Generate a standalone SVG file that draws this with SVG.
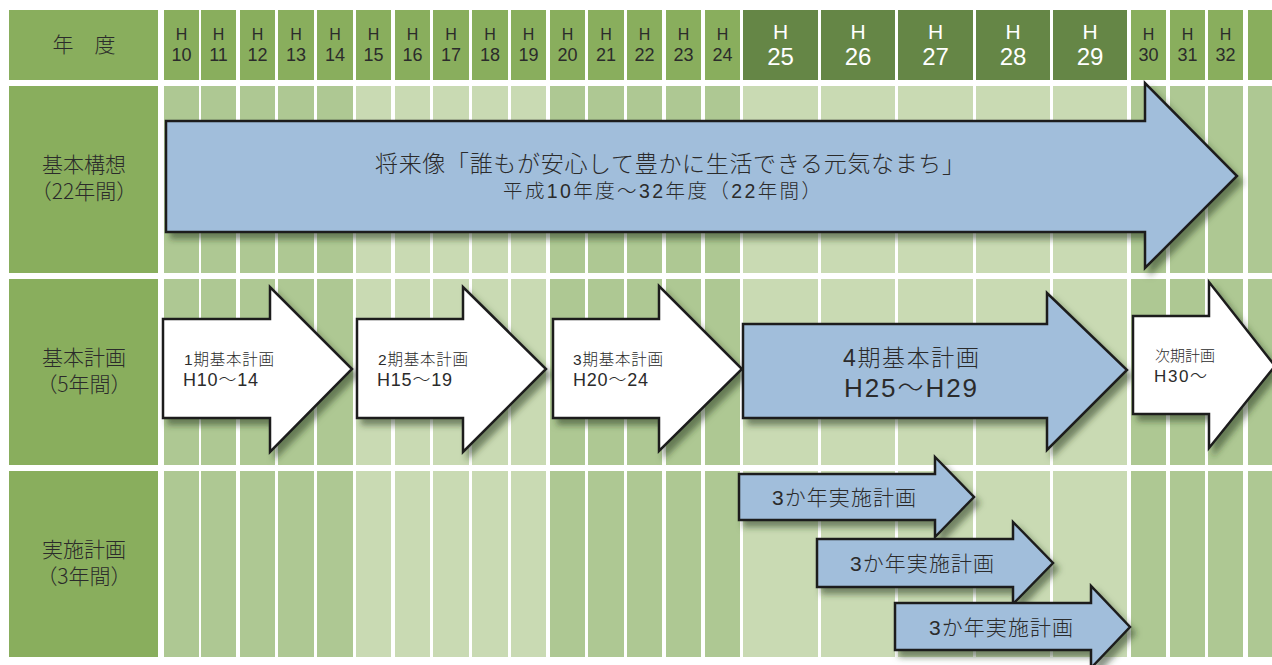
<svg xmlns="http://www.w3.org/2000/svg" width="1272" height="665" viewBox="0 0 1272 665">
<defs>
<style>
.t{font-family:"Liberation Sans","Noto Sans CJK JP",sans-serif;fill:#2b2b2b;font-weight:300}
.jp{font-family:"Noto Sans CJK JP","Liberation Sans",sans-serif;fill:#2b2b2b;font-weight:300}
.hd{fill:#89ae5d}
.hdk{fill:#658646}
.cm{fill:#aec893}
.cl{fill:#c9dab3}
.lab{fill:#89ae5d}
.arB{fill:#a1bedb;stroke:#1e1e1e;stroke-width:2.5;stroke-linejoin:miter}
.arW{fill:#ffffff;stroke:#1e1e1e;stroke-width:2.5;stroke-linejoin:miter}
.hs{font-size:16px;text-anchor:middle}
.ns{font-size:18px;text-anchor:middle}
.hb{font-size:21px;text-anchor:middle;fill:#ffffff}
.nb{font-size:24px;text-anchor:middle;fill:#ffffff}
</style>
<filter id="sh" x="-10%" y="-20%" width="130%" height="150%">
<feDropShadow dx="5" dy="6" stdDeviation="3" flood-color="#2a3a1a" flood-opacity="0.55"/>
</filter>
</defs>
<rect width="1272" height="665" fill="#ffffff"/>

<g id="columns">
<g id="header-cells">
<rect class="hd" x="164" y="10" width="35" height="70"/>
<rect class="hd" x="201" y="10" width="35" height="70"/>
<rect class="hd" x="240" y="10" width="35" height="70"/>
<rect class="hd" x="278" y="10" width="36" height="70"/>
<rect class="hd" x="317" y="10" width="36" height="70"/>
<rect class="hd" x="356" y="10" width="35" height="70"/>
<rect class="hd" x="395" y="10" width="35" height="70"/>
<rect class="hd" x="433" y="10" width="36" height="70"/>
<rect class="hd" x="472" y="10" width="36" height="70"/>
<rect class="hd" x="511" y="10" width="35" height="70"/>
<rect class="hd" x="550" y="10" width="35" height="70"/>
<rect class="hd" x="588" y="10" width="36" height="70"/>
<rect class="hd" x="627" y="10" width="35" height="70"/>
<rect class="hd" x="666" y="10" width="35" height="70"/>
<rect class="hd" x="705" y="10" width="35" height="70"/>
<rect class="hdk" x="743" y="10" width="75" height="70"/>
<rect class="hdk" x="821" y="10" width="74" height="70"/>
<rect class="hdk" x="898" y="10" width="75" height="70"/>
<rect class="hdk" x="976" y="10" width="74" height="70"/>
<rect class="hdk" x="1053" y="10" width="74" height="70"/>
<rect class="hd" x="1131" y="10" width="35" height="70"/>
<rect class="hd" x="1170" y="10" width="35" height="70"/>
<rect class="hd" x="1208" y="10" width="35" height="70"/>
<rect class="hd" x="1248" y="10" width="24" height="70"/>
</g>
<g id="body-cells">
<rect class="cm" x="164" y="86" width="35" height="571"/>
<rect class="cm" x="201" y="86" width="35" height="571"/>
<rect class="cm" x="240" y="86" width="35" height="571"/>
<rect class="cm" x="278" y="86" width="36" height="571"/>
<rect class="cm" x="317" y="86" width="36" height="571"/>
<rect class="cl" x="356" y="86" width="35" height="571"/>
<rect class="cl" x="395" y="86" width="35" height="571"/>
<rect class="cl" x="433" y="86" width="36" height="571"/>
<rect class="cl" x="472" y="86" width="36" height="571"/>
<rect class="cl" x="511" y="86" width="35" height="571"/>
<rect class="cm" x="550" y="86" width="35" height="571"/>
<rect class="cm" x="588" y="86" width="36" height="571"/>
<rect class="cm" x="627" y="86" width="35" height="571"/>
<rect class="cm" x="666" y="86" width="35" height="571"/>
<rect class="cm" x="705" y="86" width="35" height="571"/>
<rect class="cl" x="743" y="86" width="75" height="571"/>
<rect class="cl" x="821" y="86" width="74" height="571"/>
<rect class="cl" x="898" y="86" width="75" height="571"/>
<rect class="cl" x="976" y="86" width="74" height="571"/>
<rect class="cl" x="1053" y="86" width="74" height="571"/>
<rect class="cm" x="1131" y="86" width="35" height="571"/>
<rect class="cm" x="1170" y="86" width="35" height="571"/>
<rect class="cm" x="1208" y="86" width="35" height="571"/>
<rect class="cm" x="1248" y="86" width="24" height="571"/>
<rect x="160" y="273" width="1112" height="6" fill="#ffffff"/>
<rect x="160" y="465" width="1112" height="6" fill="#ffffff"/>
</g>
</g>

<g id="row-labels">
<g id="label-year">
<rect class="lab" x="9" y="10" width="149" height="70"/>
<text class="jp" x="84" y="52" font-size="21" text-anchor="middle">年　度</text>
</g>
<g id="label-kousou">
<rect class="lab" x="9" y="86" width="149" height="187"/>
<text class="jp" x="84" y="172" font-size="21" text-anchor="middle">基本構想</text>
<text class="jp" x="84" y="199" font-size="21" text-anchor="middle">（22年間）</text>
</g>
<g id="label-keikaku">
<rect class="lab" x="9" y="279" width="149" height="186"/>
<text class="jp" x="84" y="365" font-size="21" text-anchor="middle">基本計画</text>
<text class="jp" x="84" y="392" font-size="21" text-anchor="middle">（5年間）</text>
</g>
<g id="label-jisshi">
<rect class="lab" x="9" y="471" width="149" height="186"/>
<text class="jp" x="84" y="557" font-size="21" text-anchor="middle">実施計画</text>
<text class="jp" x="84" y="584" font-size="21" text-anchor="middle">（3年間）</text>
</g>
</g>

<g id="year-labels">
<text class="t hs" x="181.5" y="40">H</text><text class="t ns" x="181.5" y="61">10</text>
<text class="t hs" x="218.5" y="40">H</text><text class="t ns" x="218.5" y="61">11</text>
<text class="t hs" x="257.5" y="40">H</text><text class="t ns" x="257.5" y="61">12</text>
<text class="t hs" x="296" y="40">H</text><text class="t ns" x="296" y="61">13</text>
<text class="t hs" x="335" y="40">H</text><text class="t ns" x="335" y="61">14</text>
<text class="t hs" x="373.5" y="40">H</text><text class="t ns" x="373.5" y="61">15</text>
<text class="t hs" x="412.5" y="40">H</text><text class="t ns" x="412.5" y="61">16</text>
<text class="t hs" x="451" y="40">H</text><text class="t ns" x="451" y="61">17</text>
<text class="t hs" x="490" y="40">H</text><text class="t ns" x="490" y="61">18</text>
<text class="t hs" x="528.5" y="40">H</text><text class="t ns" x="528.5" y="61">19</text>
<text class="t hs" x="567.5" y="40">H</text><text class="t ns" x="567.5" y="61">20</text>
<text class="t hs" x="606" y="40">H</text><text class="t ns" x="606" y="61">21</text>
<text class="t hs" x="644.5" y="40">H</text><text class="t ns" x="644.5" y="61">22</text>
<text class="t hs" x="683.5" y="40">H</text><text class="t ns" x="683.5" y="61">23</text>
<text class="t hs" x="722.5" y="40">H</text><text class="t ns" x="722.5" y="61">24</text>
<text class="t hb" x="780.5" y="39">H</text><text class="t nb" x="780.5" y="65">25</text>
<text class="t hb" x="858" y="39">H</text><text class="t nb" x="858" y="65">26</text>
<text class="t hb" x="935.5" y="39">H</text><text class="t nb" x="935.5" y="65">27</text>
<text class="t hb" x="1013" y="39">H</text><text class="t nb" x="1013" y="65">28</text>
<text class="t hb" x="1090" y="39">H</text><text class="t nb" x="1090" y="65">29</text>
<text class="t hs" x="1148.5" y="40">H</text><text class="t ns" x="1148.5" y="61">30</text>
<text class="t hs" x="1187.5" y="40">H</text><text class="t ns" x="1187.5" y="61">31</text>
<text class="t hs" x="1225.5" y="40">H</text><text class="t ns" x="1225.5" y="61">32</text>
</g>

<g id="connectors"></g>

<g id="kousou-arrow">
<path class="arB" filter="url(#sh)" d="M166,121 H1145 V83 L1237,176 L1145,268 V232 H166 Z"/>
<text class="t" x="375" y="172" font-size="23" textLength="590" lengthAdjust="spacing">将来像「誰もが安心して豊かに生活できる元気なまち」</text>
<text class="t" x="503" y="198" font-size="19.5" textLength="318" lengthAdjust="spacing">平成10年度～32年度（22年間）</text>
</g>

<g id="plan1">
<path class="arW" filter="url(#sh)" d="M163,319 H270 V287 L352,369 L270,452 V418 H163 Z"/>
<text class="t" x="184" y="365" font-size="15.5" textLength="90" lengthAdjust="spacing">1期基本計画</text>
<text class="t" x="183" y="386" font-size="18" textLength="75" lengthAdjust="spacing">H10～14</text>
</g>
<g id="plan2">
<path class="arW" filter="url(#sh)" d="M357,319 H463 V287 L546,369 L463,452 V418 H357 Z"/>
<text class="t" x="378" y="365" font-size="15.5" textLength="90" lengthAdjust="spacing">2期基本計画</text>
<text class="t" x="377" y="386" font-size="18" textLength="75" lengthAdjust="spacing">H15～19</text>
</g>
<g id="plan3">
<path class="arW" filter="url(#sh)" d="M553,319 H659 V286 L742,369 L659,451 V418 H553 Z"/>
<text class="t" x="573" y="365" font-size="15.5" textLength="90" lengthAdjust="spacing">3期基本計画</text>
<text class="t" x="573" y="386" font-size="18" textLength="75" lengthAdjust="spacing">H20～24</text>
</g>
<g id="plan4">
<path class="arB" filter="url(#sh)" d="M743,324 H1047 V293 L1127,370 L1047,450 V418 H743 Z"/>
<text class="t" x="843" y="366" font-size="23" textLength="136" lengthAdjust="spacing">4期基本計画</text>
<text class="t" x="844" y="397" font-size="26" textLength="133" lengthAdjust="spacing">H25～H29</text>
</g>
<g id="plan-next">
<path class="arW" filter="url(#sh)" d="M1133,316 H1209 V282 L1275,366 L1209,448 V414 H1133 Z"/>
<text class="t" x="1155" y="361" font-size="15" textLength="60" lengthAdjust="spacing">次期計画</text>
<text class="t" x="1154" y="382" font-size="17" textLength="53" lengthAdjust="spacing">H30～</text>
</g>

<g id="jisshi1">
<path class="arB" filter="url(#sh)" d="M739,474 H935 V457 L974,497 L935,537 V520 H739 Z"/>
<text class="t" x="772" y="505" font-size="21" textLength="144" lengthAdjust="spacing">3か年実施計画</text>
</g>
<g id="jisshi2">
<path class="arB" filter="url(#sh)" d="M817,539 H1013 V522 L1053,563 L1013,604 V587 H817 Z"/>
<text class="t" x="850" y="571" font-size="21" textLength="144" lengthAdjust="spacing">3か年実施計画</text>
</g>
<g id="jisshi3">
<path class="arB" filter="url(#sh)" d="M895,603 H1091 V586 L1130,627 L1091,668 V650 H895 Z"/>
<text class="t" x="929" y="635" font-size="21" textLength="144" lengthAdjust="spacing">3か年実施計画</text>
</g>
</svg>
